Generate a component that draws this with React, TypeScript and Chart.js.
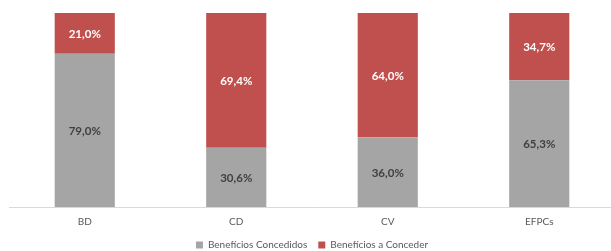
import React, { useEffect, useRef } from "react";
import { Chart, registerables } from "chart.js";

Chart.register(...registerables);

const categories = ["BD", "CD", "CV", "EFPCs"];
const concedidos = [79.0, 30.6, 36.0, 65.3];
const aConceder = [21.0, 69.4, 64.0, 34.7];
const seriesNames = ["Benefícios Concedidos", "Benefícios a Conceder"];

const FONT = "Lato, 'Open Sans', sans-serif";

const fmt = (v: number) => v.toFixed(1).replace(".", ",") + "%";

const labelPlugin = {
  id: "barLabels",
  afterDatasetsDraw(chart: any) {
    const ctx = chart.ctx;
    ctx.save();
    ctx.font = `bold 11.5px ${FONT}`;
    ctx.textAlign = "center";
    ctx.textBaseline = "middle";
    chart.data.datasets.forEach((ds: any, i: number) => {
      const meta = chart.getDatasetMeta(i);
      meta.data.forEach((bar: any, j: number) => {
        const p = bar.getProps(["x", "y", "base"], true);
        ctx.fillStyle = i === 0 ? "#404040" : "#FFFFFF";
        ctx.fillText(fmt(ds.data[j]), p.x, (p.y + p.base) / 2 + 1);
      });
    });
    ctx.restore();
  },
};

export default function App() {
  const ref = useRef<HTMLCanvasElement | null>(null);
  useEffect(() => {
    document.body.style.margin = "0";
    const chart = new Chart(ref.current!, {
      type: "bar",
      data: {
        labels: categories,
        datasets: [
          {
            label: seriesNames[0],
            data: concedidos,
            backgroundColor: "#A5A5A5",
            barPercentage: 0.397,
            categoryPercentage: 1,
          },
          {
            label: seriesNames[1],
            data: aConceder,
            backgroundColor: "#C0504D",
            barPercentage: 0.397,
            categoryPercentage: 1,
          },
        ],
      },
      options: {
        animation: false,
        responsive: false,
        maintainAspectRatio: false,
        layout: { padding: { left: 9, right: 1, top: 13, bottom: -9 } },
        scales: {
          x: {
            stacked: true,
            grid: { display: false, drawTicks: false },
            border: { display: true, color: "#D9D9D9", width: 1 },
            ticks: { color: "#595959", font: { family: FONT, size: 10, lineHeight: 1.2 }, padding: 9 },
            afterFit: (scale: any) => {
              scale.height = 22;
            },
          },
          y: {
            stacked: true,
            display: false,
            min: 0,
            max: 100,
          },
        },
        plugins: {
          legend: {
            position: "bottom",
            labels: {
              boxWidth: 7,
              boxHeight: 7,
              padding: 11,
              color: "#595959",
              font: { family: FONT, size: 10 },
            },
          },
          tooltip: { enabled: false },
        },
      },
      plugins: [labelPlugin],
    });
    return () => chart.destroy();
  }, []);
  return (
    <div style={{ position: "fixed", left: 0, top: 0, width: 611, height: 251, overflow: "hidden", background: "#fff" }}>
      <canvas ref={ref} width={616} height={251} style={{ display: "block" }} />
    </div>
  );
}
